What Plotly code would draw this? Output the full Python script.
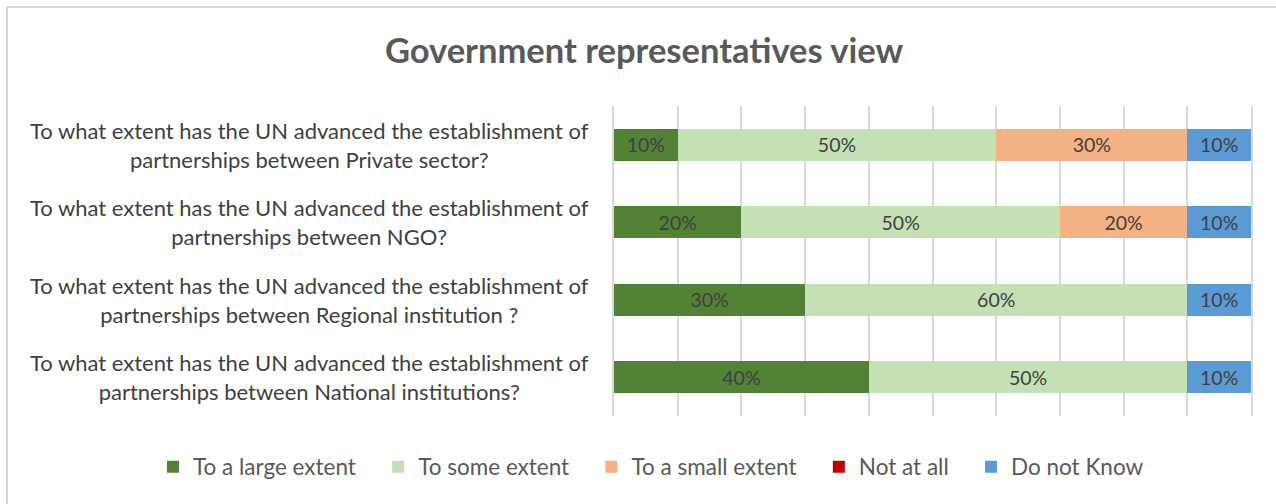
import plotly.graph_objects as go

# Survey questions, listed top to bottom
questions = [
    "To what extent has the UN advanced the establishment of<br>partnerships between Private sector?",
    "To what extent has the UN advanced the establishment of<br>partnerships between NGO?",
    "To what extent has the UN advanced the establishment of<br>partnerships between Regional institution ?",
    "To what extent has the UN advanced the establishment of<br>partnerships between National institutions?",
]

# Share of responses (%) per answer option, same order as questions
large_extent = [10, 20, 30, 40]
some_extent = [50, 50, 60, 50]
small_extent = [30, 20, 0, 0]
not_at_all = [0, 0, 0, 0]
do_not_know = [10, 10, 10, 10]

series_names = ["To a large extent", "To some extent", "To a small extent", "Not at all", "Do not Know"]
series_values = [large_extent, some_extent, small_extent, not_at_all, do_not_know]
series_colors = ["#548235", "#C5E0B4", "#F4B183", "#C00000", "#5B9BD5"]

W, H = 1276, 504
L, R, T, B = 614, 25, 106, 88
PW, PH = W - L - R, H - T - B

# a little extra room after each legend entry
PAD = "\u00a0" * 3

fig = go.Figure()
for name, vals, color in zip(series_names, series_values, series_colors):
    fig.add_trace(go.Bar(
        name=name + PAD,
        y=questions,
        x=vals,
        orientation="h",
        marker=dict(color=color, line=dict(width=0)),
        text=[f"{v}%" if v > 0 else "" for v in vals],
        textposition="inside",
        insidetextanchor="middle",
        textangle=0,
        constraintext="none",
        textfont=dict(family="Lato", size=19.5, color="#404040"),
        hoverinfo="skip",
    ))

# Category labels, centred in the left margin
for q in questions:
    fig.add_annotation(
        x=-(L - 309) / PW, xref="paper",
        y=q, yref="y",
        text=q, showarrow=False,
        xanchor="center", yanchor="middle", align="center",
        font=dict(family="Lato", size=22, color="#404040"),
    )

# Light frame around the whole chart
fig.add_shape(
    type="rect", xref="paper", yref="paper",
    x0=-(L - 7) / PW, x1=(W - L + 20) / PW,
    y0=-(B + 20) / PH, y1=1 + (T - 7) / PH,
    line=dict(color="#D9D9D9", width=2), fillcolor="rgba(0,0,0,0)",
    layer="below",
)

fig.update_layout(
    width=W, height=H,
    margin=dict(l=L, r=R, t=T, b=B),
    paper_bgcolor="white", plot_bgcolor="white",
    barmode="stack", bargap=0.59,
    title=dict(
        text="<b>Government representatives view</b>",
        x=644 / W, xanchor="center", xref="container",
        y=(H - 51) / H, yanchor="middle", yref="container",
        font=dict(family="Lato", size=34.5, color="#595959"),
    ),
    xaxis=dict(
        range=[0, 100], dtick=10, showticklabels=False,
        showgrid=True, gridcolor="#D9D9D9", gridwidth=1.5,
        zeroline=False, showline=False, fixedrange=True,
    ),
    yaxis=dict(
        categoryorder="array", categoryarray=questions, autorange="reversed",
        showticklabels=False, showgrid=False, zeroline=False,
        showline=True, mirror=True, linecolor="#D9D9D9", linewidth=1.5,
    ),
    legend=dict(
        orientation="h", xref="paper", x=-(L - 153) / PW, xanchor="left",
        yref="paper", y=-(467 - (H - B)) / PH, yanchor="middle",
        font=dict(family="Lato", size=22.5, color="#595959"),
        traceorder="normal",
    ),
    showlegend=True,
)

fig.write_html("out.html")
